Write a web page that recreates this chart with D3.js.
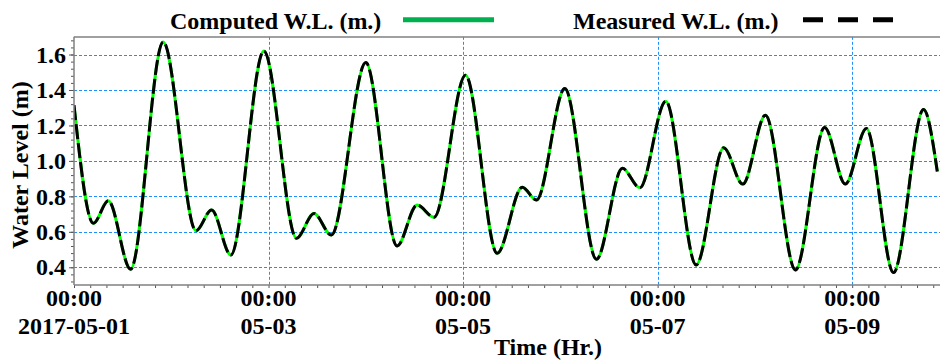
<!DOCTYPE html>
<html>
<head>
<meta charset="utf-8">
<script src="https://cdn.jsdelivr.net/npm/d3@7"></script>
<style>
  html, body { margin: 0; padding: 0; background: #fff; }
  svg { display: block; }
  text { font-family: "Liberation Serif", "Times New Roman", serif; font-weight: bold; fill: #000; }
</style>
</head>
<body>
<svg id="chart" width="940" height="361"></svg>
<script>
// Water level record, 2017-05-01 00:00 onward (hours from start)
const seriesStart = Date.UTC(2017, 4, 1, 0, 0);
const seriesHours = 213;
const hours = [0, 4.77, 8.46, 13.97, 22.0, 30.1, 33.95, 38.7, 46.85, 54.9, 59.2, 63.5,
  72.0, 79.7, 84.65, 88.85, 96.6, 104.4, 110.6, 114.1, 121.1, 128.9, 135.3, 139.6,
  146.0, 153.5, 160.3, 165.0, 170.6, 178.0, 185.2, 190.3, 195.5, 202.2, 209.6, 213];
const computedLevel = [1.314, 0.648, 0.775, 0.389, 1.671, 0.606, 0.723, 0.469, 1.62, 0.563, 0.704, 0.582,
  1.555, 0.52, 0.751, 0.682, 1.483, 0.479, 0.851, 0.779, 1.408, 0.445, 0.958, 0.848,
  1.337, 0.413, 1.074, 0.869, 1.258, 0.385, 1.189, 0.869, 1.183, 0.370, 1.29, 0.94];
const measuredLevel = [1.314, 0.648, 0.775, 0.389, 1.671, 0.606, 0.723, 0.469, 1.62, 0.563, 0.704, 0.582,
  1.555, 0.52, 0.751, 0.682, 1.483, 0.479, 0.851, 0.779, 1.408, 0.445, 0.958, 0.848,
  1.337, 0.413, 1.074, 0.869, 1.258, 0.385, 1.189, 0.869, 1.183, 0.370, 1.29, 0.94];

const yTicks = [0.4, 0.6, 0.8, 1.0, 1.2, 1.4, 1.6];
const xTickDays = [0, 2, 4, 6, 8];
const xTimeLabels = ["00:00", "00:00", "00:00", "00:00", "00:00"];
const xDateLabels = ["2017-05-01", "05-03", "05-05", "05-07", "05-09"];
const legendLabels = ["Computed W.L. (m.)", "Measured W.L. (m.)"];
const yTitle = "Water Level (m)";
const xTitle = "Time (Hr.)";

const HOUR = 3600 * 1000;
const svg = d3.select("#chart");
const plot = { left: 74, right: 937.3, top: 36.8, bottom: 285 };

const x = d3.scaleUtc()
  .domain([new Date(seriesStart), new Date(seriesStart + seriesHours * HOUR)])
  .range([plot.left, plot.right]);
const y = d3.scaleLinear().domain([0.3, 1.7]).range([plot.bottom, plot.top]);

const toDate = h => new Date(seriesStart + h * HOUR);
const computed = hours.map((h, i) => ({ t: toDate(h), v: computedLevel[i] }));
const measured = hours.map((h, i) => ({ t: toDate(h), v: measuredLevel[i] }));

svg.append("defs").append("clipPath").attr("id", "plot-clip")
  .append("rect")
  .attr("x", plot.left).attr("y", plot.top)
  .attr("width", plot.right - plot.left + 2).attr("height", plot.bottom - plot.top);

// Grid
const grid = svg.append("g").attr("stroke", "#1e8fff").attr("stroke-width", 1)
  .attr("stroke-dasharray", "3,2");
grid.selectAll("line.h").data(yTicks).join("line")
  .attr("x1", plot.left).attr("x2", 940)
  .attr("y1", d => Math.round(y(d)) + 0.5).attr("y2", d => Math.round(y(d)) + 0.5);
grid.selectAll("line.v").data(xTickDays.slice(1)).join("line")
  .attr("x1", d => Math.round(x(toDate(d * 24))) + 0.5)
  .attr("x2", d => Math.round(x(toDate(d * 24))) + 0.5)
  .attr("y1", plot.top).attr("y2", plot.bottom);

// Series
const line = d3.line().x(d => x(d.t)).y(d => y(d.v)).curve(d3.curveMonotoneX);
const lines = svg.append("g").attr("clip-path", "url(#plot-clip)");
lines.append("path").datum(computed).attr("d", line)
  .attr("fill", "none").attr("stroke", "#00ff00").attr("stroke-width", 3);
lines.append("path").datum(measured).attr("d", line)
  .attr("fill", "none").attr("stroke", "#000").attr("stroke-width", 3)
  .attr("stroke-dasharray", "15,4");

// Frame: top border
svg.append("line")
  .attr("x1", plot.left).attr("x2", 940)
  .attr("y1", 37).attr("y2", 37)
  .attr("stroke", "#808080").attr("stroke-width", 1.5);

// Y axis
const yMinor = d3.range(0.32, 1.69, 0.04).map(v => +v.toFixed(2));
const yAxisG = svg.append("g").attr("transform", `translate(${plot.left},0)`);
yAxisG.call(d3.axisLeft(y).tickValues(yMinor).tickSize(3).tickFormat(""))
  .call(g => g.select(".domain").remove())
  .call(g => g.selectAll("line").attr("stroke", "#555"));
const yMajor = svg.append("g").attr("transform", `translate(${plot.left},0)`);
yMajor.call(d3.axisLeft(y).tickValues(yTicks).tickSize(5).tickPadding(3).tickFormat(d3.format(".1f")))
  .call(g => g.select(".domain").remove())
  .call(g => g.selectAll("line").attr("stroke", "#555"))
  .call(g => g.selectAll("text").attr("font-size", 24)
    .attr("font-family", "'Liberation Serif', 'Times New Roman', serif").attr("font-weight", "bold").attr("fill", "#000"));
svg.append("line")
  .attr("x1", plot.left).attr("x2", plot.left)
  .attr("y1", plot.top).attr("y2", plot.bottom)
  .attr("stroke", "#808080").attr("stroke-width", 1.5);

// X axis
const xMinor = d3.range(0, seriesHours + 1, 4).map(toDate);
svg.append("g").attr("transform", `translate(0,${plot.bottom})`)
  .call(d3.axisBottom(x).tickValues(xMinor).tickSize(3).tickFormat(""))
  .call(g => g.select(".domain").remove())
  .call(g => g.selectAll("line").attr("stroke", "#555"));
svg.append("line")
  .attr("x1", plot.left).attr("x2", 940)
  .attr("y1", plot.bottom).attr("y2", plot.bottom)
  .attr("stroke", "#808080").attr("stroke-width", 1.5);

const xLab = svg.append("g").attr("font-size", 24).attr("text-anchor", "middle");
xLab.selectAll("text.t").data(xTickDays).join("text")
  .attr("x", d => x(toDate(d * 24))).attr("y", 306)
  .text((d, i) => xTimeLabels[i]);
xLab.selectAll("text.d").data(xTickDays).join("text")
  .attr("x", d => x(toDate(d * 24))).attr("y", 334)
  .text((d, i) => xDateLabels[i]);

// Axis titles
svg.append("text").attr("font-size", 24).attr("text-anchor", "middle")
  .attr("x", 548).attr("y", 355).text(xTitle);
svg.append("text").attr("font-size", 24).attr("text-anchor", "middle")
  .attr("transform", "translate(28,165) rotate(-90)").text(yTitle);

// Legend
const legend = svg.append("g").attr("font-size", 24);
legend.append("text").attr("x", 170).attr("y", 29).text(legendLabels[0]);
legend.append("line").attr("x1", 403).attr("x2", 494).attr("y1", 19.7).attr("y2", 19.7)
  .attr("stroke", "#00b04f").attr("stroke-width", 5);
legend.append("text").attr("x", 573).attr("y", 29).text(legendLabels[1]);
legend.append("line").attr("x1", 803).attr("x2", 893).attr("y1", 19.7).attr("y2", 19.7)
  .attr("stroke", "#000").attr("stroke-width", 5).attr("stroke-dasharray", "20,15");
</script>
</body>
</html>
